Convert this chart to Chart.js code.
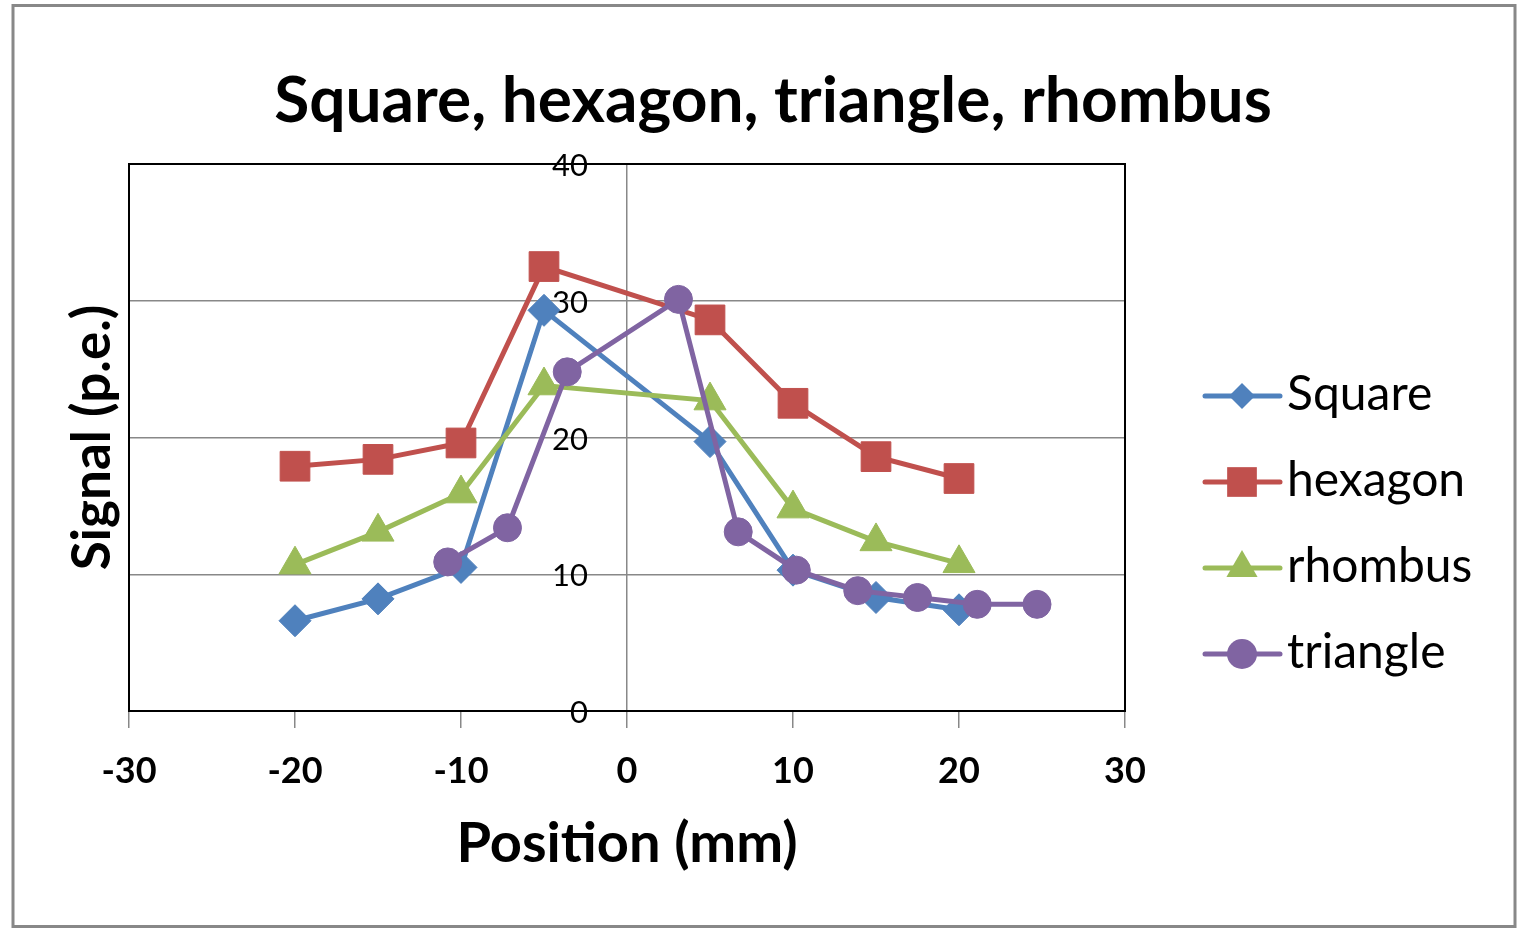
<!DOCTYPE html>
<html>
<head>
<meta charset="utf-8">
<script src="https://cdn.jsdelivr.net/npm/chart.js@4.4.1/dist/chart.umd.min.js"></script>
<style>
  html, body { margin: 0; padding: 0; background: #fff; }
  #wrap { position: absolute; left: 0; top: 0; width: 1519px; height: 929px; }
</style>
</head>
<body>
<div id="wrap"><canvas id="c" width="1519" height="929"></canvas></div>
<script>
// Signal versus position for four scintillator shapes
const squarePos = [-20, -15, -10, -5, 5, 10, 15, 20];
const squareSig = [6.6, 8.2, 10.5, 29.3, 19.7, 10.3, 8.3, 7.4];

const hexagonPos = [-20, -15, -10, -5, 5, 10, 15, 20];
const hexagonSig = [17.9, 18.4, 19.6, 32.5, 28.6, 22.5, 18.6, 17.0];

const rhombusPos = [-20, -15, -10, -5, 5, 10, 15, 20];
const rhombusSig = [10.7, 13.1, 15.9, 23.8, 22.7, 14.8, 12.4, 10.8];

const trianglePos = [-10.8, -7.2, -3.6, 3.1, 6.7, 10.2, 13.9, 17.5, 21.1, 24.7];
const triangleSig = [10.9, 13.4, 24.8, 30.1, 13.1, 10.3, 8.8, 8.3, 7.8, 7.8];

const seriesNames = ['Square', 'hexagon', 'rhombus', 'triangle'];
const seriesColors = ['#4F81BD', '#C0504D', '#9BBB59', '#8064A2'];

const xTicks = { min: -30, max: 30, step: 10 };
const yTicks = { min: 0, max: 40, step: 10 };

// y tick labels sit just left of the vertical axis drawn at x = 0
const yLabelEdge = -2.35;

const FONT = 'Lato, "Open Sans", sans-serif';

function pts(xs, ys) { return xs.map((x, i) => ({ x: x, y: ys[i] })); }

function series(i, xs, ys, style, radius, legendRadius, order) {
  return {
    label: seriesNames[i],
    data: pts(xs, ys),
    showLine: true,
    borderColor: seriesColors[i],
    backgroundColor: seriesColors[i],
    borderWidth: 5,
    tension: 0,
    pointStyle: style,
    pointRadius: radius,
    pointHoverRadius: radius,
    pointBackgroundColor: seriesColors[i],
    pointBorderColor: seriesColors[i],
    pointBorderWidth: 1,
    legendRadius: legendRadius,
    order: order
  };
}

// Outer border, plot frame and a line+marker legend on the right
const decor = {
  id: 'decor',
  beforeDraw(chart) {
    const ctx = chart.ctx;
    ctx.save();
    ctx.fillStyle = '#fff';
    ctx.fillRect(0, 0, chart.width, chart.height);
    ctx.strokeStyle = '#888';
    ctx.lineWidth = 3;
    ctx.strokeRect(13, 5.5, 1502, 921);
    ctx.restore();
  },
  beforeDatasetsDraw(chart) {
    const a = chart.chartArea, ctx = chart.ctx;
    ctx.save();
    ctx.strokeStyle = '#000';
    ctx.lineWidth = 2;
    ctx.strokeRect(a.left, a.top, a.right - a.left, a.bottom - a.top);
    ctx.restore();
  },
  afterDraw(chart) {
    const ctx = chart.ctx;
    const x0 = 1205, x1 = 1280, xm = 1242, top = 396, step = 86;
    ctx.save();
    chart.data.datasets.forEach((ds, i) => {
      const y = top + i * step;
      ctx.strokeStyle = ds.borderColor;
      ctx.lineWidth = 5;
      ctx.lineCap = 'round';
      ctx.beginPath();
      ctx.moveTo(x0, y);
      ctx.lineTo(x1, y);
      ctx.stroke();
      ctx.fillStyle = ds.pointBackgroundColor;
      ctx.strokeStyle = ds.pointBorderColor;
      Chart.helpers.drawPoint(ctx, {
        pointStyle: ds.pointStyle, radius: ds.legendRadius, rotation: 0, borderWidth: 0
      }, xm, y);
      ctx.fillStyle = '#000';
      ctx.font = '48px ' + FONT;
      ctx.textBaseline = 'middle';
      ctx.textAlign = 'left';
      ctx.fillText(ds.label, 1287, y - 1);
    });
    ctx.restore();
  }
};

new Chart(document.getElementById('c'), {
  type: 'scatter',
  data: {
    datasets: [
      series(0, squarePos, squareSig, 'rectRot', 16, 13, 4),
      series(1, hexagonPos, hexagonSig, 'rect', 21, 21, 3),
      series(2, rhombusPos, rhombusSig, 'triangle', 18.5, 18, 2),
      series(3, trianglePos, triangleSig, 'circle', 14, 15, 1)
    ]
  },
  options: {
    responsive: false,
    animation: false,
    devicePixelRatio: 1,
    layout: { padding: { left: 27, right: 0, top: 0, bottom: 0 } },
    plugins: {
      legend: { display: false },
      tooltip: { enabled: false },
      title: {
        display: true,
        text: 'Square, hexagon, triangle, rhombus',
        color: '#000',
        font: { family: FONT, size: 64, weight: 'bold' },
        padding: { top: 63, bottom: 24.2 }
      }
    },
    scales: {
      x: {
        type: 'linear',
        axis: 'x',
        position: 'bottom',
        min: xTicks.min,
        max: xTicks.max,
        ticks: {
          stepSize: xTicks.step,
          color: '#000',
          font: { family: FONT, size: 36, weight: 'bold' },
          padding: 22
        },
        grid: {
          drawOnChartArea: true,
          drawTicks: true,
          tickLength: 17,
          // only the zero line is drawn across the plot; every tick keeps its mark
          color: (c) => (c.tick && c.tick.value === 0 ? '#888' : 'rgba(0,0,0,0)'),
          tickColor: '#888',
          lineWidth: 1.5
        },
        border: { color: '#000', width: 2 },
        title: {
          display: true,
          text: 'Position (mm)',
          color: '#000',
          font: { family: FONT, size: 56, weight: 'bold' },
          padding: { top: 0, bottom: 51.8 }
        },
        afterFit(s) { s.height = 218; }
      },
      y: {
        type: 'linear',
        axis: 'y',
        position: { x: yLabelEdge },
        min: yTicks.min,
        max: yTicks.max,
        ticks: {
          stepSize: yTicks.step,
          color: '#000',
          font: { family: FONT, size: 31 },
          labelOffset: 2
        },
        grid: { color: '#888', lineWidth: 1.5, drawTicks: false },
        border: { display: false }
      },
      yTitle: {
        type: 'linear',
        axis: 'y',
        position: 'left',
        min: yTicks.min,
        max: yTicks.max,
        ticks: { display: false },
        grid: { display: false },
        border: { display: false },
        title: {
          display: true,
          text: 'Signal (p.e.)',
          color: '#000',
          font: { family: FONT, size: 53, weight: 'bold' },
          padding: { top: 34.1, bottom: 0 }
        },
        afterFit(s) { s.width = 102; }
      },
      legendSpace: {
        type: 'linear',
        axis: 'y',
        position: 'right',
        min: yTicks.min,
        max: yTicks.max,
        ticks: { display: false },
        grid: { display: false },
        border: { display: false },
        afterFit(s) { s.width = 394; }
      }
    }
  },
  plugins: [decor]
});
</script>
</body>
</html>
